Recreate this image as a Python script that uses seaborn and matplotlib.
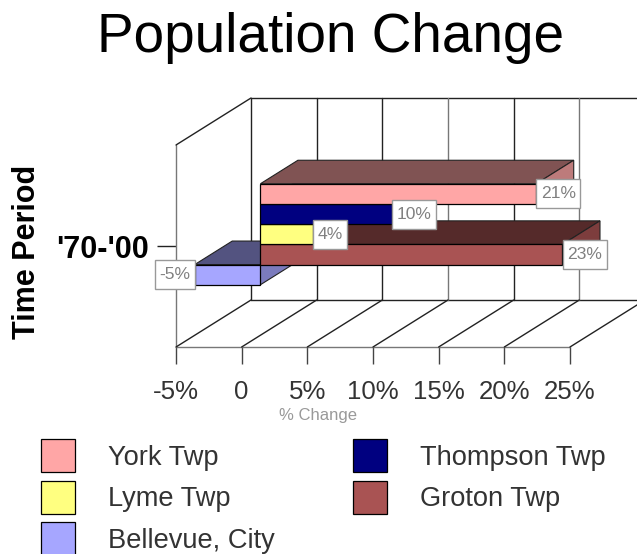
import matplotlib
matplotlib.use("Agg")
import matplotlib.pyplot as plt
import pandas as pd
import seaborn as sns
from matplotlib.patches import Polygon
from matplotlib.path import Path
from matplotlib.transforms import Affine2D

period = ["'70-'00"]
towns = ["York Twp", "Thompson Twp", "Lyme Twp", "Groton Twp", "Bellevue, City"]
change = [21, 10, 4, 23, -5]
labels = ["21%", "10%", "4%", "23%", "-5%"]
colors = ["#FFA6A6", "#000080", "#FFFF80", "#A95353", "#A6A6FF"]
x_ticks = [-5, 0, 5, 10, 15, 20, 25]
x_tick_labels = ["-5%", "0", "5%", "10%", "15%", "20%", "25%"]
legend_order = ["York Twp", "Lyme Twp", "Bellevue, City", "Thompson Twp", "Groton Twp"]

W, H = 637, 554
sns.set_style("white")
plt.rcParams["font.family"] = ["Liberation Sans", "DejaVu Sans"]

fig = plt.figure(figsize=(W / 100, H / 100), dpi=100, facecolor="white")
L, R, T, B = 176, 570, 145, 347
ax = fig.add_axes([L / W, 1 - B / H, (R - L) / W, (B - T) / H])

df = pd.DataFrame({"period": period * len(towns), "town": towns, "change": change})
sns.barplot(data=df, x="change", y="period", hue="town", hue_order=towns,
            palette=colors, saturation=1, width=0.5, orient="h", legend=False,
            edgecolor="black", linewidth=0.9, ax=ax)
ax.set_xlim(-5, 25)
ax.set_ylim(0.5, -0.5)

# depth of the pseudo-3D box, in data units
DX = 75 / ((R - L) / 30)
DY = -47 / (B - T)
ytop, ybot = -0.5, 0.5
FRONT, BACK = 0.25, 0.75


def dark(c, k):
    rgb = matplotlib.colors.to_rgb(c)
    return tuple(v * k for v in rgb)


def label_box(x0, y0, width, height, mutation_size):
    px, py = 4.5, 7.0
    x1, y1 = x0 + width + px, y0 + height + py
    x0, y0 = x0 - px, y0 - py
    return Path([(x0, y0), (x1, y0), (x1, y1), (x0, y1), (x0, y0)], closed=True)


# walls and floor
kw = dict(zorder=1, clip_on=False, lw=1)
ax.plot([-5, -5], [ytop, ybot], color="#777777", **kw)
ax.plot([-5, -5 + DX], [ytop, ytop + DY], color="#222222", **kw)
ax.plot([-5, 25], [ybot, ybot], color="#777777", **kw)
ax.plot([-5 + DX, 25 + DX], [ytop + DY, ytop + DY], color="#222222", **kw)
ax.plot([-5 + DX, 25 + DX], [ybot + DY, ybot + DY], color="#222222", **kw)
for i, t in enumerate(x_ticks):
    shade = "#777777" if i in (3, 5) else "#222222"
    ax.plot([t + DX, t + DX], [ytop + DY, ybot + DY], color=shade, **kw)
    ax.plot([t, t + DX], [ybot, ybot + DY], color="#222222", **kw)

# bars: front faces come from seaborn, depth faces follow their geometry
for i, (container, col, txt) in enumerate(zip(ax.containers, colors, labels)):
    bar = container[0]
    z = 3 + (len(towns) - i)
    bar.set_transform(Affine2D().translate(FRONT * DX, FRONT * DY) + ax.transData)
    bar.set_zorder(z + 0.2)
    bar.set_clip_on(False)
    x0 = min(bar.get_x(), bar.get_x() + bar.get_width())
    x1 = max(bar.get_x(), bar.get_x() + bar.get_width())
    y0 = min(bar.get_y(), bar.get_y() + bar.get_height())
    y1 = max(bar.get_y(), bar.get_y() + bar.get_height())

    def P(x, y, d):
        return (x + d * DX, y + d * DY)

    top = [P(x0, y0, FRONT), P(x1, y0, FRONT), P(x1, y0, BACK), P(x0, y0, BACK)]
    side = [P(x1, y0, FRONT), P(x1, y1, FRONT), P(x1, y1, BACK), P(x1, y0, BACK)]
    ax.add_patch(Polygon(top, closed=True, fc=dark(col, 0.5), ec="#222222", lw=0.8,
                         zorder=z + 0.1, clip_on=False))
    ax.add_patch(Polygon(side, closed=True, fc=dark(col, 0.74), ec="#222222", lw=0.8,
                         zorder=z + 0.1, clip_on=False))

    value = change[i]
    end = value + FRONT * DX
    ymid = (y0 + y1) / 2 + FRONT * DY
    sign = 1 if value >= 0 else -1
    ax.annotate(txt, xy=(end, ymid), xytext=(sign * 3.4, 0), textcoords="offset points",
                ha="left" if value >= 0 else "right", va="center",
                fontsize=12.6, color="#808080", zorder=20,
                bbox=dict(boxstyle=label_box, fc="white", ec="#999999", lw=1))

# axes furniture
sns.despine(ax=ax, left=True, bottom=True, right=True, top=True)
ax.set_xticks(x_ticks, x_tick_labels)
ax.tick_params(axis="x", length=12.5, width=1, color="#444444", pad=11,
               labelsize=18.6, labelcolor="#333333", bottom=True)
ax.tick_params(axis="y", length=13.7, width=1, color="#222222", pad=6,
               labelsize=22, labelcolor="black", left=True)
for lab in ax.get_yticklabels():
    lab.set_fontweight("bold")
ax.set_xlabel("% Change", fontsize=12, color="#999999")
ax.xaxis.set_label_coords((318 - L) / (R - L), -(423 - B) / (B - T), transform=ax.transAxes)
ax.xaxis.label.set_va("bottom")
ax.set_ylabel("Time Period", fontsize=22, fontweight="bold", color="black")
ax.yaxis.set_label_coords(-(176 - 42) / (R - L), 0.5 + (246 - 251.5) / (B - T))

ax.set_title("Population Change", fontsize=39.5, color="black",
             x=(331 - L) / (R - L), y=(B - 52) / (B - T), va="baseline", pad=0)

# legend
by_name = {t: c[0] for t, c in zip(towns, ax.containers)}
fs = 19.6
px = fs * 100 / 72
leg = fig.legend(handles=[by_name[t] for t in legend_order], labels=legend_order,
                 ncol=2, loc="upper left", bbox_to_anchor=(41 / W, 1 - 439 / H),
                 frameon=False, fontsize=fs, borderpad=0, borderaxespad=0,
                 handlelength=34 / px, handleheight=1.49,
                 handletextpad=33 / px, labelspacing=8.5 / px, columnspacing=78 / px,
                 labelcolor="#333333")

fig.savefig("out.png", dpi=100, facecolor="white")
